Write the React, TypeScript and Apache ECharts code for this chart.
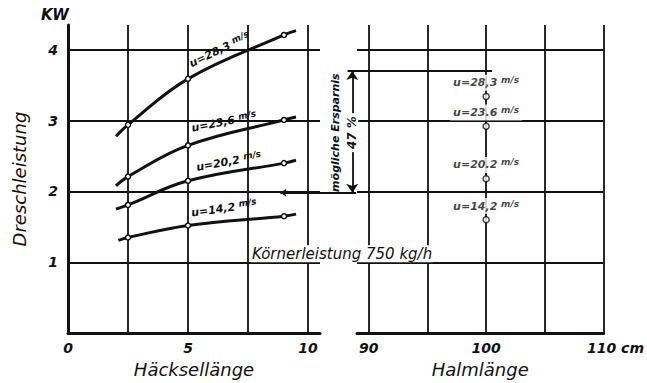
import React, { useEffect, useRef } from "react";
import * as echarts from "echarts";

// ---- data ----
const line283 = [[2.0, 2.78], [2.5, 2.94], [5.0, 3.59], [9.0, 4.21], [9.5, 4.27]];
const line236 = [[2.0, 2.08], [2.5, 2.21], [5.0, 2.65], [9.0, 3.01], [9.5, 3.05]];
const line202 = [[2.0, 1.75], [2.5, 1.81], [5.0, 2.15], [9.0, 2.40], [9.5, 2.44]];
const line142 = [[2.1, 1.31], [2.5, 1.35], [5.0, 1.52], [9.0, 1.65], [9.5, 1.68]];
const measuredChop = [2.5, 5.0, 9.0];
const leftNames = ["u=28,3", "u=23,6", "u=20,2", "u=14,2"];

const halmX = 100;
const halmValues = [3.34, 2.92, 2.18, 1.6];
const rightNames = ["u=28,3", "u=23.6", "u=20.2", "u=14,2"];

const leftXLabels = [0, 5, 10];
const leftXGrid = [2.5, 5, 7.5, 10];
const yLabels = [1, 2, 3, 4];
const rightXLabels = [90, 100, 110];
const rightXGrid = [90, 95, 100, 105, 110];

const savingTop = 3.7;
const savingBottom = 1.98;
const savingText = "47 %";

const FONT = '"DejaVu Sans", sans-serif';
const INK = "#111";

const Y_MAX = 4.35;
const LX_MAX = 10.5;
const RX_MIN = 89;
const RX_MAX = 110;

function gridLines(xs: number[], ys: number[], x0: number, x1: number) {
  const d: any[] = [];
  xs.forEach((x) => d.push({ coords: [[x, 0], [x, Y_MAX]] }));
  ys.forEach((y) => d.push({ coords: [[x0, y], [x1, y]] }));
  return d;
}

const tickFont = { fontFamily: FONT, fontStyle: "italic", fontWeight: "bold", fontSize: 13, color: INK };
const nameFont = { fontFamily: FONT, fontStyle: "italic", fontSize: 18, color: INK };

export default function App() {
  const ref = useRef<HTMLDivElement>(null);
  useEffect(() => {
    if (!ref.current) return;
    const chart = echarts.init(ref.current, null, { renderer: "svg" });
    const curves = [line283, line236, line202, line142];
    const option: any = {
      animation: false,
      backgroundColor: "#fff",
      grid: [
        { left: 68, top: 25, width: 252, height: 315 },
        { left: 357, top: 25, width: 256, height: 315 },
      ],
      xAxis: [
        {
          type: "value", gridIndex: 0, min: 0, max: LX_MAX, interval: 2.5,
          axisLine: { lineStyle: { color: INK, width: 3 } },
          axisTick: { show: false }, splitLine: { show: false },
          axisLabel: { ...tickFont, fontSize: 14, margin: 8, formatter: (v: number) => (leftXLabels.includes(v) ? String(v) : "") },
          name: "Häcksellänge", nameLocation: "middle", nameGap: 24, nameTextStyle: nameFont,
        },
        {
          type: "value", gridIndex: 1, min: RX_MIN, max: RX_MAX, interval: 1,
          axisLine: { lineStyle: { color: INK, width: 3 } },
          axisTick: { show: false }, splitLine: { show: false },
          axisLabel: {
            ...tickFont, fontSize: 14, margin: 8,
            formatter: (v: number) => (v === 110 ? "{p|}110{u| cm}" : rightXLabels.includes(v) ? String(v) : ""),
            rich: { p: { width: 24 }, u: { ...tickFont, fontSize: 14 } },
          },
          name: "Halmlänge", nameLocation: "middle", nameGap: 24, nameTextStyle: nameFont,
        },
      ],
      yAxis: [
        {
          type: "value", gridIndex: 0, min: 0, max: Y_MAX, interval: 1,
          axisLine: { show: true, lineStyle: { color: INK, width: 3 } },
          axisTick: { show: false }, splitLine: { show: false },
          axisLabel: { ...tickFont, fontSize: 14, margin: 10, formatter: (v: number) => (yLabels.includes(v) ? String(v) : "") },
          name: "Dreschleistung", nameLocation: "middle", nameGap: 40, nameRotate: 90, nameTextStyle: nameFont,
        },
        {
          type: "value", gridIndex: 1, min: 0, max: Y_MAX, interval: 1,
          axisLine: { show: false }, axisTick: { show: false }, splitLine: { show: false },
          axisLabel: { show: false },
        },
      ],
      series: [
        {
          type: "lines", coordinateSystem: "cartesian2d", xAxisIndex: 0, yAxisIndex: 0, z: 1, silent: true, clip: false,
          lineStyle: { color: INK, width: 1.8, opacity: 1 },
          data: gridLines(leftXGrid, yLabels, 0, LX_MAX),
        },
        {
          type: "lines", coordinateSystem: "cartesian2d", xAxisIndex: 1, yAxisIndex: 1, z: 1, silent: true, clip: false,
          lineStyle: { color: INK, width: 1.8, opacity: 1 },
          data: gridLines(rightXGrid, yLabels, RX_MIN, RX_MAX),
        },
        // saving reference lines
        {
          type: "lines", coordinateSystem: "cartesian2d", xAxisIndex: 1, yAxisIndex: 1, z: 2, silent: true, clip: false,
          lineStyle: { color: INK, width: 1.8, opacity: 1 },
          data: [{ coords: [[88.2, savingTop], [100.5, savingTop]] }],
        },
        {
          type: "lines", coordinateSystem: "cartesian2d", xAxisIndex: 0, yAxisIndex: 0, z: 2, silent: true, clip: false,
          symbol: ["arrow", "none"], symbolSize: 6,
          lineStyle: { color: INK, width: 1.8, opacity: 1 },
          data: [{ coords: [[8.85, savingBottom], [12.0, savingBottom]] }],
        },
        {
          type: "lines", coordinateSystem: "cartesian2d", xAxisIndex: 1, yAxisIndex: 1, z: 2, silent: true, clip: false,
          symbol: ["arrow", "arrow"], symbolSize: 9,
          lineStyle: { color: INK, width: 1.8, opacity: 1 },
          data: [{ coords: [[88.6, savingBottom], [88.6, savingTop]] }],
        },
        ...curves.map((c) => ({
          type: "line", xAxisIndex: 0, yAxisIndex: 0, z: 3, smooth: 0.4, silent: true,
          lineStyle: { color: INK, width: 3 },
          symbol: "circle", symbolSize: 5, showSymbol: true,
          itemStyle: { color: "#fff", borderColor: INK, borderWidth: 1.5 },
          data: c.map((p) => (measuredChop.includes(p[0]) ? { value: p } : { value: p, symbol: "none" })),
        })),
        {
          type: "scatter", xAxisIndex: 1, yAxisIndex: 1, z: 5, silent: true,
          symbol: "circle", symbolSize: 6,
          itemStyle: { color: "#fff", borderColor: INK, borderWidth: 1.5 },
          label: {
            show: true, position: "top", distance: 2,
            backgroundColor: "#fff", padding: [1, 3],
            fontFamily: FONT, fontStyle: "italic", fontWeight: "bold", fontSize: 11, color: INK,
            formatter: (p: any) => `${rightNames[p.dataIndex]} {s|m/s}`,
            rich: { s: { fontFamily: FONT, fontStyle: "italic", fontWeight: "bold", fontSize: 9, color: INK, padding: [0, 0, 5, 0] } },
          },
          data: halmValues.map((v) => [halmX, v]),
        },
      ],
    };
    chart.setOption(option);

    const px = (g: number, p: number[]) => chart.convertToPixel({ gridIndex: g } as any, p) as unknown as number[];
    const curveLabel = (name: string, at: number[], rotDeg: number) => {
      const [x, y] = px(0, at);
      return {
        type: "text", x, y, rotation: (rotDeg * Math.PI) / 180, z: 20,
        style: {
          text: `${name} {s|m/s}`, fontFamily: FONT, fontStyle: "italic", fontWeight: "bold", fontSize: 11, fill: INK,
          align: "center", verticalAlign: "middle",
          rich: { s: { fontFamily: FONT, fontStyle: "italic", fontWeight: "bold", fontSize: 9, fill: INK, padding: [0, 0, 5, 0] } },
        },
      };
    };
    const kw = px(0, [0, Y_MAX]);
    const korn = px(0, [7.62, 1.12]);
    const ers = px(1, [87.2, 2.83]);
    const pct = px(1, [88.6, 2.83]);
    chart.setOption({
      graphic: [
        { type: "text", x: kw[0] - 13, y: kw[1] - 10, z: 20, style: { text: "KW", fontFamily: FONT, fontStyle: "italic", fontWeight: "bold", fontSize: 15, fill: INK, align: "center", verticalAlign: "middle" } },
        curveLabel(leftNames[0], [6.32, 4.0], 26),
        curveLabel(leftNames[1], [6.5, 2.98], 11),
        curveLabel(leftNames[2], [6.7, 2.42], 10),
        curveLabel(leftNames[3], [6.5, 1.76], 8),
        { type: "text", x: korn[0], y: korn[1], z: 20, style: { text: "Körnerleistung 750 kg/h", fontFamily: FONT, fontStyle: "italic", fontSize: 15, fill: INK, align: "left", verticalAlign: "middle", backgroundColor: "#fff", padding: [1, 1] } },
        { type: "text", x: ers[0], y: ers[1], rotation: Math.PI / 2, z: 20, style: { text: "mögliche Ersparnis", fontFamily: FONT, fontStyle: "italic", fontWeight: "bold", fontSize: 11, fill: INK, align: "center", verticalAlign: "middle" } },
        { type: "text", x: pct[0], y: pct[1], rotation: Math.PI / 2, z: 20, style: { text: savingText, fontFamily: FONT, fontStyle: "italic", fontWeight: "bold", fontSize: 12, fill: INK, align: "center", verticalAlign: "middle", backgroundColor: "#fff", padding: [0, 3] } },
      ],
    });
    return () => chart.dispose();
  }, []);
  return (
    <div
      ref={ref}
      style={{ position: "fixed", left: 0, top: 0, width: 647, height: 383, background: "#fff" }}
    />
  );
}
